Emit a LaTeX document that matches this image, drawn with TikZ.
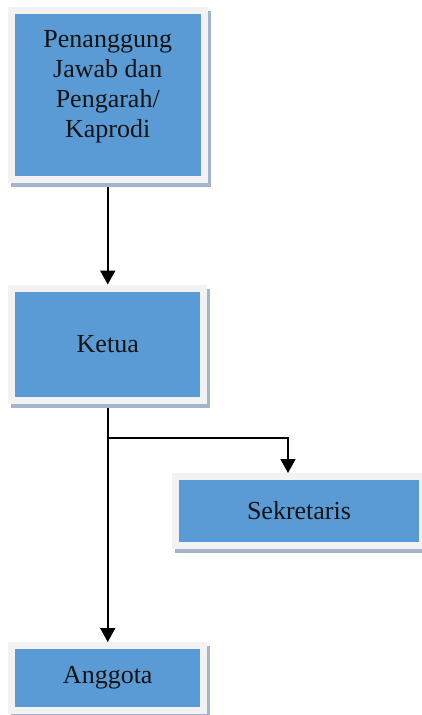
\documentclass[tikz,border=0pt]{standalone}
\usepackage{fontspec}
\setmainfont{Liberation Serif}
\usetikzlibrary{positioning,arrows.meta}
\definecolor{boxblue}{HTML}{5B9BD5}
\definecolor{framegray}{HTML}{F2F2F2}
\definecolor{shadowgray}{HTML}{A3B4CB}
\definecolor{textdark}{HTML}{141414}

\begin{document}
\begin{tikzpicture}[x=1pt,y=-1pt,->,>={Triangle[width=15pt,length=14pt]},line width=1.8pt,box node/.style={rectangle,fill=boxblue,draw=framegray,line width=7pt,text=textdark,font=\fontsize{26}{30}\selectfont,align=center,preaction={draw=shadowgray,line width=7pt,transform canvas={shift={(3pt,-4pt)}}}}]
                \useasboundingbox (0,0) rectangle (422,715);

                \node[box node,minimum width=192.5pt,minimum height=168.5pt] (pj) at (107.75,94.75) {Penanggung\\Jawab dan\\Pengarah/\\Kaprodi\\[-8pt]};
                \node[box node,minimum width=192pt,minimum height=112pt] (ketua) [below=102pt of pj] {Ketua};
                \node[box node,minimum width=247pt,minimum height=69pt] (sekretaris) at (299,511) {Sekretaris};
                \node[box node,minimum width=192pt,minimum height=65pt] (anggota) [below=238.5pt of ketua] {Anggota};

                \coordinate (cabang) at (107.75,438);

                \path
                    (pj) edge [shorten <=4pt] (ketua)
                    (ketua) edge [shorten <=4pt] (anggota)
                    ;

                \draw[line width=1.3pt] (cabang) -| ([xshift=-11pt]sekretaris.north);

            \end{tikzpicture}
\end{document}
